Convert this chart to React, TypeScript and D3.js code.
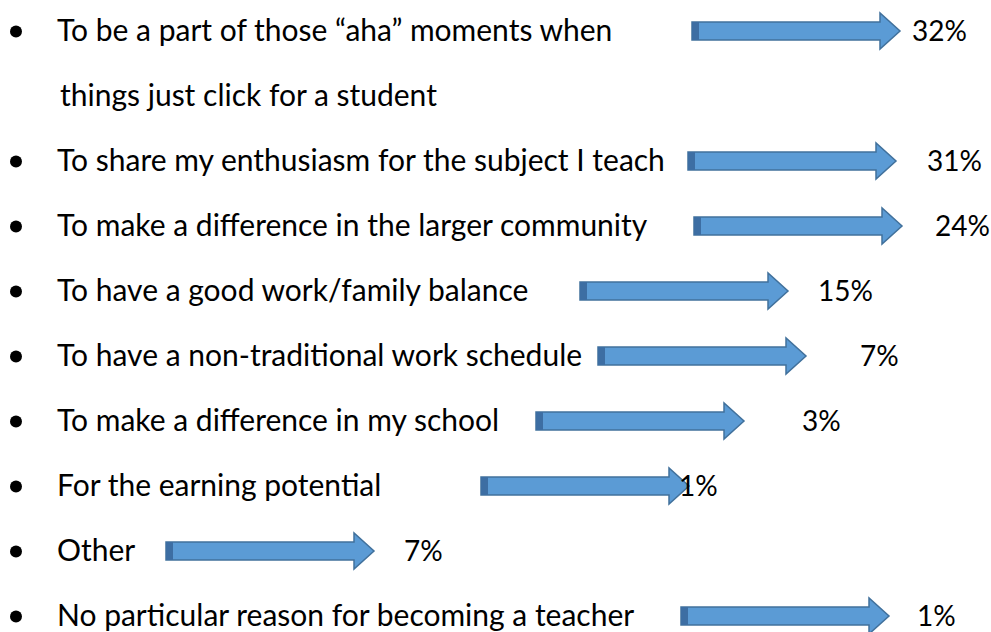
import React from "react";
import * as d3 from "d3";

// Data
const reasons: string[][] = [
  ["To be a part of those \u201caha\u201d moments when", "things just click for a student"],
  ["To share my enthusiasm for the subject I teach"],
  ["To make a difference in the larger community"],
  ["To have a good work/family balance"],
  ["To have a non-traditional work schedule"],
  ["To make a difference in my school"],
  ["For the earning potential"],
  ["Other"],
  ["No particular reason for becoming a teacher"],
];
const percents: number[] = [32, 31, 24, 15, 7, 3, 1, 7, 1];

// Layout (decorative arrow placement as in the original slide)
const arrowStartX: number[] = [692, 688, 694, 580, 598, 536, 481, 166, 681];
const labelStartX: number[] = [912, 927, 935, 818, 860, 802, 679, 404, 917];

const W = 991;
const H = 632;
const ARROW_LEN = 208;
const HEAD_LEN = 20;
const SHAFT_H = 18;
const HEAD_H = 36;
const CAP_W = 7;

export default function App() {
  const lineIndex: number[] = [];
  let li = 0;
  reasons.forEach((r) => {
    lineIndex.push(li);
    li += r.length;
  });
  const y = d3.scaleLinear().domain([0, 9]).range([31, 616]);

  const arrowPath = (x0: number, cy: number) => {
    const p = d3.path();
    const xh = x0 + ARROW_LEN - HEAD_LEN;
    p.moveTo(x0, cy - SHAFT_H / 2);
    p.lineTo(xh, cy - SHAFT_H / 2);
    p.lineTo(xh, cy - HEAD_H / 2);
    p.lineTo(x0 + ARROW_LEN, cy);
    p.lineTo(xh, cy + HEAD_H / 2);
    p.lineTo(xh, cy + SHAFT_H / 2);
    p.lineTo(x0, cy + SHAFT_H / 2);
    p.closePath();
    return p.toString();
  };

  const font = "Lato, 'Open Sans', sans-serif";

  return (
    <svg
      width={W}
      height={H}
      style={{ position: "absolute", left: 0, top: 0, background: "#fff" }}
      fontFamily={font}
    >
      {reasons.map((lines, i) => {
        const cy = y(lineIndex[i]);
        const x0 = arrowStartX[i];
        return (
          <g key={i}>
            <circle cx={16} cy={cy + 0.5} r={6} fill="#000" />
            {lines.map((t, k) => (
              <text
                key={k}
                x={k === 0 ? 57 : 60}
                y={y(lineIndex[i] + k) + 10}
                fontSize={30}
                fill="#000"
              >
                {t}
              </text>
            ))}
            <path d={arrowPath(x0, cy)} fill="#5b9bd5" stroke="#41719c" strokeWidth={1.5} />
            <rect x={x0} y={cy - SHAFT_H / 2} width={CAP_W} height={SHAFT_H} fill="#3d6ea3" />
            <text x={labelStartX[i]} y={cy + 10} fontSize={28} fill="#000">
              {`${percents[i]}%`}
            </text>
          </g>
        );
      })}
    </svg>
  );
}
